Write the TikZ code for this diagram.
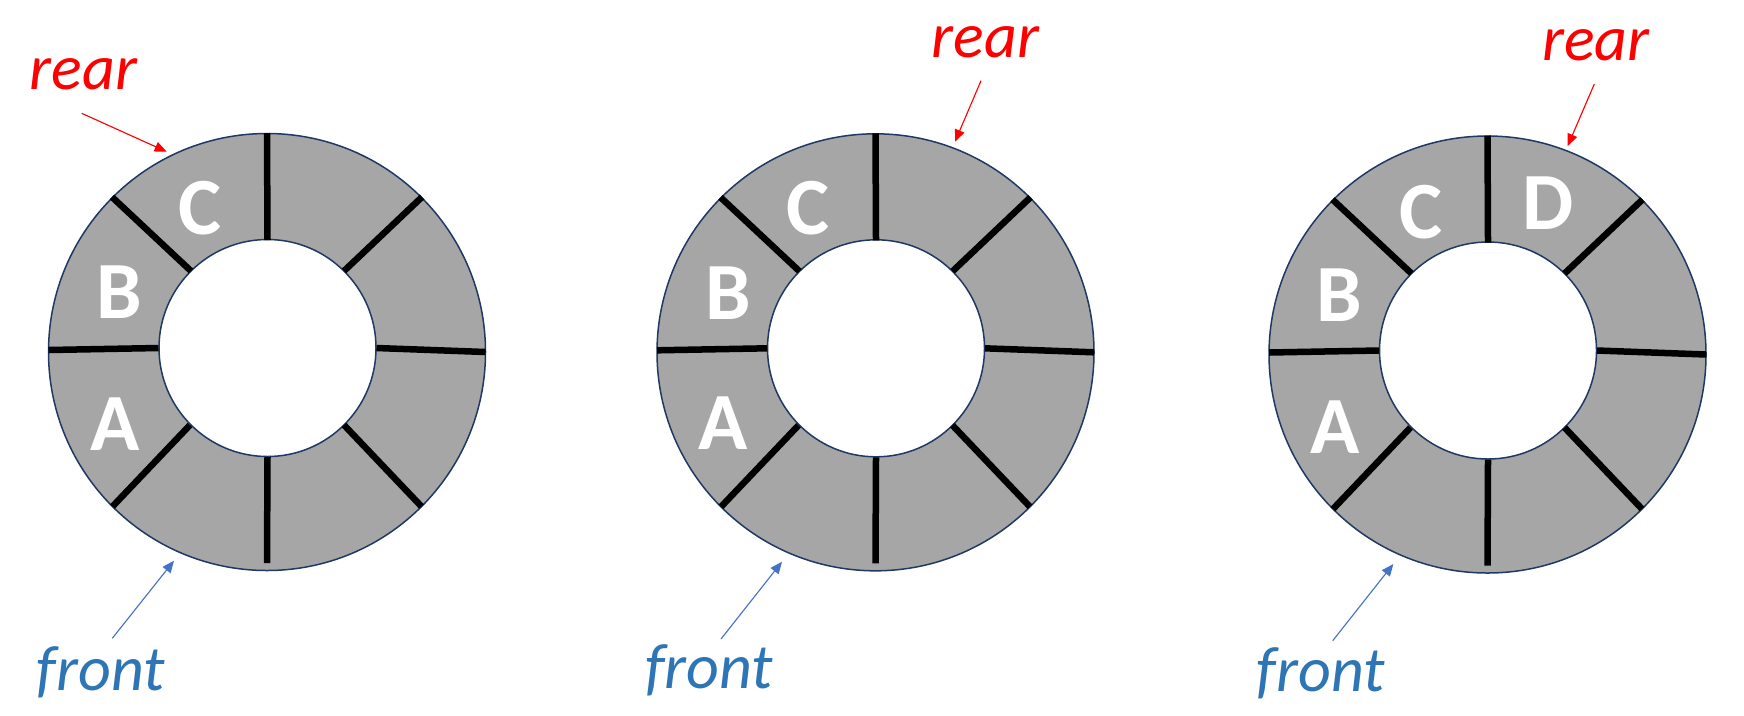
\documentclass[tikz,border=0pt]{standalone}
\usepackage{fontspec}
\setmainfont{Carlito}
\usetikzlibrary{arrows.meta}
\definecolor{ringgray}{HTML}{A6A6A6}
\definecolor{ringline}{HTML}{203864}
\definecolor{frontblue}{HTML}{2E75B6}
\definecolor{arrowblue}{HTML}{4472C4}
\begin{document}
\begin{tikzpicture}[x=0.4pt,y=-0.4pt,
  ringedge/.style={draw=ringline,line width=0.6pt},
  spoke/.style={draw=black,line width=2.6pt},
  slotlabel/.style={text=white,font=\fontsize{32.5}{34}\selectfont\bfseries,inner sep=0pt},
  rearlabel/.style={text=red,font=\fontsize{25.6}{27}\selectfont\itshape,inner sep=0pt,anchor=base},
  frontlabel/.style={text=frontblue,font=\fontsize{25.6}{27}\selectfont\itshape,inner sep=0pt,anchor=base},
  reararrow/.style={draw=red,line width=0.45pt,-{Triangle[length=4.8pt,width=4pt]}},
  frontarrow/.style={draw=arrowblue,line width=0.45pt,-{Triangle[length=4.8pt,width=4pt]}},
  pics/ring/.style={code={
    \fill[ringgray,even odd rule] (0,0) circle[radius=87.4pt] (0.5,-4) circle[radius=43.4pt];
    \draw[ringedge] (0,0) circle[radius=87.4pt];
    \draw[ringedge,fill=white] (0.5,-4) circle[radius=43.4pt];
    \draw[spoke] (0,-219) -- (0.5,-112)
                 (155,-155) -- (77,-81)
                 (218.5,0) -- (109.5,-4)
                 (154.5,154.5) -- (77,73)
                 (0,211) -- (0.5,105)
                 (-154.5,154.5) -- (-77,73)
                 (-218.5,-2) -- (-108.5,-4)
                 (-155,-155) -- (-76,-81);
  }}
]
\useasboundingbox (0,0) rectangle (1744,715);

% rings
\pic at (267,352) {ring};
\pic at (875.5,352.3) {ring};
\pic at (1487.5,354.5) {ring};

% slot labels
\node[slotlabel] (c1) at (200,208.3) {C};
\node[slotlabel] (b1) at (119.3,291.7) {B};
\node[slotlabel] (a1) at (115,424) {A};
\node[slotlabel] (c2) at (808.3,208.3) {C};
\node[slotlabel] (b2) at (728.3,292.7) {B};
\node[slotlabel] (a2) at (723.3,423.3) {A};
\node[slotlabel] (c3) at (1420.7,211.7) {C};
\node[slotlabel] (b3) at (1339.3,295) {B};
\node[slotlabel] (a3) at (1335,426.7) {A};
\node[slotlabel] (d3) at (1548.3,203.3) {D};

% rear labels and arrows
\node[rearlabel] (rear1) at (83.3,89.3) {rear};
\node[rearlabel] (rear2) at (985.3,57.3) {rear};
\node[rearlabel] (rear3) at (1595.8,60.7) {rear};
\coordinate (r1s) at (81.7,113.3);
\coordinate (r1t) at (166.7,151.7);
\coordinate (r2s) at (981,80.7);
\coordinate (r2t) at (955,141.7);
\coordinate (r3s) at (1594.3,84);
\coordinate (r3t) at (1567.7,146);
\draw[reararrow] (r1s) -- (r1t);
\draw[reararrow] (r2s) -- (r2t);
\draw[reararrow] (r3s) -- (r3t);

% front labels and arrows
\node[frontlabel] (front1) at (100.8,690) {front};
\node[frontlabel] (front2) at (709.2,688.3) {front};
\node[frontlabel] (front3) at (1320.8,691.7) {front};
\coordinate (f1s) at (112.3,638.3);
\coordinate (f1t) at (174,560.7);
\coordinate (f2s) at (721,639);
\coordinate (f2t) at (782,561.7);
\coordinate (f3s) at (1332.7,640.7);
\coordinate (f3t) at (1393.3,564);
\draw[frontarrow] (f1s) -- (f1t);
\draw[frontarrow] (f2s) -- (f2t);
\draw[frontarrow] (f3s) -- (f3t);
\end{tikzpicture}
\end{document}
